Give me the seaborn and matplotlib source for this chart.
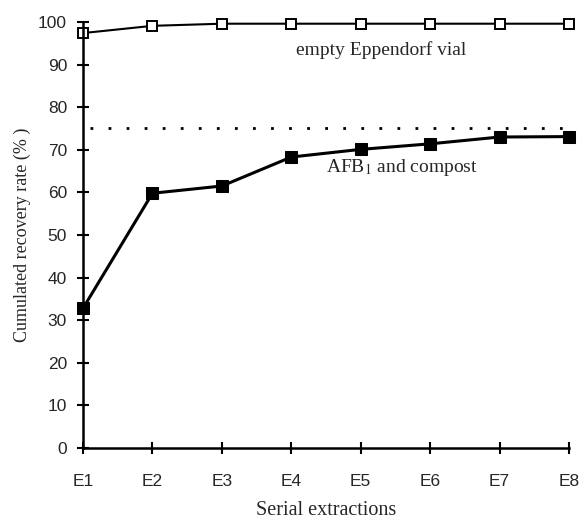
"""Cumulated recovery rate over serial extractions."""

import matplotlib

matplotlib.use("Agg")
import matplotlib.pyplot as plt
import pandas as pd
import seaborn as sns


EXTRACTIONS = ["E1", "E2", "E3", "E4", "E5", "E6", "E7", "E8"]
EMPTY_VIAL = [97.4, 99.1, 99.6, 99.6, 99.6, 99.6, 99.6, 99.6]
AFB1_COMPOST = [32.8, 59.8, 61.5, 68.3, 70.1, 71.4, 73.0, 73.1]
REFERENCE_LEVEL = 75.2
Y_TICKS = [0, 10, 20, 30, 40, 50, 60, 70, 80, 90, 100]

sns.set_style("ticks")
plt.rcParams["font.family"] = ["Liberation Sans", "DejaVu Sans"]
serif = ["Liberation Serif", "DejaVu Serif"]

df = pd.DataFrame({
    "step": list(range(len(EXTRACTIONS))) * 2,
    "rate": EMPTY_VIAL + AFB1_COMPOST,
    "series": ["empty"] * len(EXTRACTIONS) + ["afb"] * len(EXTRACTIONS),
})

fig = plt.figure(figsize=(5.81, 5.20), dpi=100)
ax = fig.add_axes([0.1429, 0.1385, 0.8365, 0.8192])

empty = df[df["series"] == "empty"]
afb = df[df["series"] == "afb"]
sns.lineplot(data=empty, x="step", y="rate", color="black", linewidth=1.5,
             marker="s", markersize=7, markerfacecolor="white",
             markeredgecolor="black", markeredgewidth=1.4, ax=ax, clip_on=False)
sns.lineplot(data=afb, x="step", y="rate", color="black", linewidth=2.2,
             marker="s", markersize=8, markerfacecolor="black",
             markeredgecolor="black", ax=ax, clip_on=False)

ax.plot([0.1, len(EXTRACTIONS) - 1], [REFERENCE_LEVEL] * 2, color="black",
        linestyle=(0, (1, 5.5)), linewidth=2)

ax.text(4.29, 93.4, "empty Eppendorf vial", family=serif, fontsize=14,
        ha="center", va="center")
ax.text(4.6, 65.8, r"AFB$_1$ and compost", family=serif, fontsize=14,
        ha="center", va="center", math_fontfamily="stix")

ax.set_xlim(0, len(EXTRACTIONS) - 1)
ax.set_ylim(0, 100)
ax.set_xticks(range(len(EXTRACTIONS)))
ax.set_xticklabels(EXTRACTIONS)
ax.set_yticks(Y_TICKS)
ax.tick_params(direction="inout", length=9, width=1.5, labelsize=12.5,
               color="black", pad=7)
ax.tick_params(axis="x", pad=14)
for side in ["top", "right"]:
    ax.spines[side].set_visible(False)
for side in ["left", "bottom"]:
    ax.spines[side].set_linewidth(1.8)
    ax.spines[side].set_color("black")

ax.set_xlabel("Serial extractions", family=serif, fontsize=14.5, labelpad=9)
ax.set_ylabel("Cumulated recovery rate (% )", family=serif, fontsize=13,
              labelpad=5)

fig.savefig("out.png", dpi=100)
